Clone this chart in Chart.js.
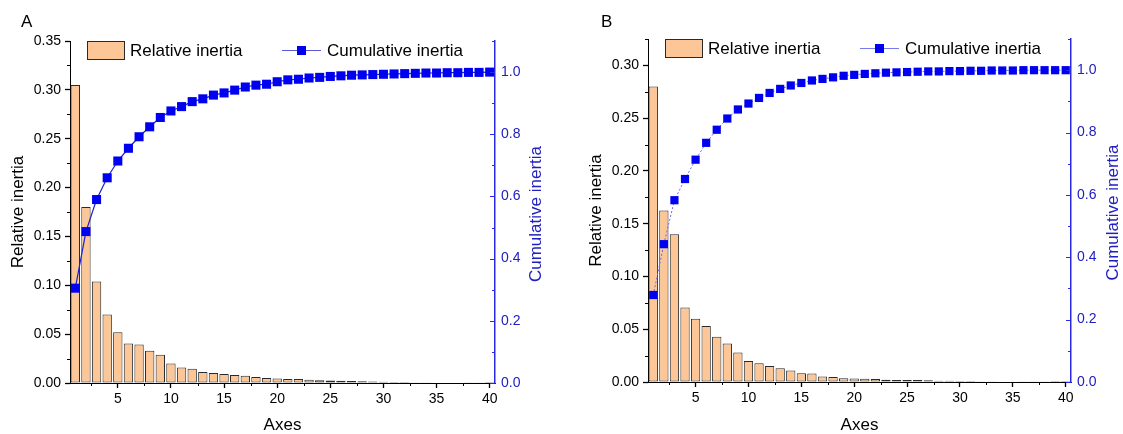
<!DOCTYPE html>
<html>
<head>
<meta charset="utf-8">
<script src="https://cdn.jsdelivr.net/npm/chart.js@4.4.1/dist/chart.umd.min.js"></script>
<style>
  html, body { margin: 0; padding: 0; background: #fff; }
  body { width: 1123px; height: 434px; position: relative; overflow: hidden; }
  canvas { position: absolute; top: 0; }
  #chartA { left: 0; }
  #chartB { left: 578px; }
</style>
</head>
<body>
<canvas id="chartA" width="560" height="434"></canvas>
<canvas id="chartB" width="545" height="434"></canvas>
<script>
const axes = [1, 2, 3, 4, 5, 6, 7, 8, 9, 10, 11, 12, 13, 14, 15, 16, 17, 18, 19, 20,
              21, 22, 23, 24, 25, 26, 27, 28, 29, 30, 31, 32, 33, 34, 35, 36, 37, 38, 39, 40];

// panel A
const relativeA = [0.305, 0.180, 0.104, 0.070, 0.052, 0.0405, 0.0395, 0.033, 0.029, 0.020,
                   0.0158, 0.0145, 0.0113, 0.0103, 0.0092, 0.0082, 0.0075, 0.0061, 0.0052, 0.0045,
                   0.0042, 0.0040, 0.0033, 0.0028, 0.0025, 0.0022, 0.0020, 0.0017, 0.0015, 0.0013,
                   0.0011, 0.0009, 0.0008, 0.0007, 0.0006, 0.0005, 0.0004, 0.0003, 0.0002, 0.0001];
const cumulativeA = [0.305, 0.487, 0.590, 0.660, 0.714, 0.755, 0.792, 0.824, 0.854, 0.875,
                     0.889, 0.905, 0.914, 0.926, 0.933, 0.942, 0.952, 0.958, 0.961, 0.969,
                     0.975, 0.977, 0.981, 0.983, 0.986, 0.988, 0.990, 0.991, 0.992, 0.993,
                     0.994, 0.995, 0.996, 0.997, 0.997, 0.998, 0.998, 0.999, 0.999, 1.000];

// panel B
const relativeB = [0.280, 0.1625, 0.140, 0.0707, 0.060, 0.053, 0.0428, 0.0365, 0.028, 0.020,
                   0.0178, 0.0152, 0.013, 0.011, 0.0082, 0.008, 0.0053, 0.0047, 0.0036, 0.0032,
                   0.0030, 0.0028, 0.0022, 0.0020, 0.0019, 0.0018, 0.0016, 0.0012, 0.0011, 0.0010,
                   0.0009, 0.0008, 0.0006, 0.0005, 0.0004, 0.0003, 0.0002, 0.0002, 0.0001, 0.0001];
const cumulativeB = [0.279, 0.442, 0.583, 0.651, 0.713, 0.767, 0.809, 0.845, 0.874, 0.893,
                     0.911, 0.927, 0.940, 0.951, 0.959, 0.967, 0.972, 0.977, 0.982, 0.985,
                     0.988, 0.990, 0.992, 0.993, 0.994, 0.995, 0.996, 0.996, 0.997, 0.997,
                     0.998, 0.998, 0.999, 0.999, 0.999, 1.000, 1.000, 1.000, 1.000, 1.000];

// ticks (major = labelled)
const xTicks = [2.5, 5, 7.5, 10, 12.5, 15, 17.5, 20, 22.5, 25, 27.5, 30, 32.5, 35, 37.5, 40];
const xLabels = [5, 10, 15, 20, 25, 30, 35, 40];
const leftTicksA = [0, 0.025, 0.05, 0.075, 0.1, 0.125, 0.15, 0.175, 0.2, 0.225, 0.25, 0.275, 0.3, 0.325, 0.35];
const leftTicksB = [0, 0.025, 0.05, 0.075, 0.1, 0.125, 0.15, 0.175, 0.2, 0.225, 0.25, 0.275, 0.3, 0.325];
const leftLabels = [0, 0.05, 0.1, 0.15, 0.2, 0.25, 0.3, 0.35];
const rightTicks = [0, 0.1, 0.2, 0.3, 0.4, 0.5, 0.6, 0.7, 0.8, 0.9, 1.0, 1.1];
const rightLabels = [0, 0.2, 0.4, 0.6, 0.8, 1.0];

const barFill = '#fcc696';
const barEdge = '#2a2a2a';
const blue = '#0000f0';
const axisBlue = '#2a2ae6';
const textBlue = '#2020c0';
const clear = 'rgba(0,0,0,0)';

Chart.defaults.font.family = '"Liberation Sans", Arial, sans-serif';

const near = (list, v) => list.some(t => Math.abs(t - v) < 1e-9);

// short minor ticks, and the inward ticks of the right axis
const tickMarks = {
    id: 'tickMarks',
    afterDraw(chart) {
        const ctx = chart.ctx;
        const { x, y, y2 } = chart.scales;
        ctx.save();
        ctx.lineWidth = 1;
        ctx.strokeStyle = '#000';
        ctx.beginPath();
        x.ticks.forEach(t => {
            if (near(xLabels, t.value)) return;
            const p = Math.round(x.getPixelForValue(t.value)) + 0.5;
            ctx.moveTo(p, x.top);
            ctx.lineTo(p, x.top + 3);
        });
        y.ticks.forEach(t => {
            if (near(leftLabels, t.value)) return;
            const p = Math.round(y.getPixelForValue(t.value)) + 0.5;
            ctx.moveTo(y.right, p);
            ctx.lineTo(y.right - 3, p);
        });
        ctx.stroke();
        ctx.strokeStyle = axisBlue;
        ctx.beginPath();
        y2.ticks.forEach(t => {
            const len = near(rightLabels, t.value) ? 5 : 3;
            const p = Math.round(y2.getPixelForValue(t.value)) + 0.5;
            ctx.moveTo(y2.left, p);
            ctx.lineTo(y2.left - len, p);
        });
        ctx.stroke();
        ctx.restore();
    }
};

// legend, panel letter and right-hand title
const overlay = {
    id: 'overlay',
    afterDraw(chart, args, o) {
        const ctx = chart.ctx;
        const a = chart.chartArea;
        const ds = chart.data.datasets;
        ctx.save();
        ctx.font = '17px "Liberation Sans", Arial, sans-serif';
        ctx.textBaseline = 'middle';
        ctx.textAlign = 'left';
        ctx.fillStyle = '#000';
        ctx.fillText(o.letter, o.letterX, o.letterY);

        const ly = a.top + 9;
        ctx.fillStyle = barFill;
        ctx.fillRect(a.left + 17, a.top, 37, 18);
        ctx.strokeStyle = barEdge;
        ctx.lineWidth = 1;
        ctx.strokeRect(a.left + 17.5, a.top + 0.5, 37, 18);
        ctx.fillStyle = '#000';
        ctx.fillText(ds[1].label, a.left + 60, ly + 1);

        ctx.strokeStyle = o.legendLine;
        ctx.lineWidth = 1;
        ctx.beginPath();
        ctx.moveTo(a.left + 212, ly + 0.5);
        ctx.lineTo(a.left + 251, ly + 0.5);
        ctx.stroke();
        ctx.fillStyle = blue;
        ctx.fillRect(a.left + 227, ly - 4, 9, 9);
        ctx.fillStyle = '#000';
        ctx.fillText(ds[0].label, a.left + 257, ly + 1);

        ctx.translate(a.right + o.titleOffset, (a.top + a.bottom) / 2 + 2);
        ctx.rotate(-Math.PI / 2);
        ctx.textAlign = 'center';
        ctx.fillStyle = textBlue;
        ctx.fillText('Cumulative inertia', 0, 0);
        ctx.restore();
    }
};

function makeChart(id, cfg) {
    return new Chart(document.getElementById(id), {
        type: 'bar',
        data: {
            datasets: [
                {
                    type: 'line',
                    label: 'Cumulative inertia',
                    yAxisID: 'y2',
                    order: 0,
                    data: axes.map((a, i) => ({ x: a, y: cfg.cumulative[i] })),
                    borderColor: cfg.lineColor,
                    borderWidth: cfg.lineWidth,
                    borderDash: cfg.dash,
                    pointStyle: 'rect',
                    pointRadius: cfg.markerRadius,
                    pointBackgroundColor: blue,
                    pointBorderWidth: 0,
                    tension: 0
                },
                {
                    type: 'bar',
                    label: 'Relative inertia',
                    yAxisID: 'y',
                    order: 1,
                    data: axes.map((a, i) => ({ x: a, y: cfg.relative[i] })),
                    backgroundColor: barFill,
                    borderColor: barEdge,
                    borderWidth: 1,
                    borderSkipped: false,
                    barPercentage: 0.88,
                    categoryPercentage: 1
                }
            ]
        },
        options: {
            responsive: false,
            animation: false,
            layout: { padding: { top: cfg.top, left: 0, right: 0, bottom: 0 } },
            plugins: {
                legend: { display: false },
                tooltip: { enabled: false },
                overlay: cfg.overlay
            },
            scales: {
                x: {
                    type: 'linear',
                    min: 0.5,
                    max: 40.5,
                    offset: false,
                    afterBuildTicks: s => { s.ticks = xTicks.map(v => ({ value: v })); },
                    afterFit: s => { s.height = cfg.xHeight; },
                    ticks: {
                        autoSkip: false, maxRotation: 0, padding: 3, color: '#000',
                        font: { size: 14 },
                        callback: v => near(xLabels, v) ? String(v) : ''
                    },
                    grid: {
                        drawOnChartArea: false, offset: false, tickLength: 5, tickWidth: 1.3,
                        tickColor: c => c.tick && near(xLabels, c.tick.value) ? '#000' : clear
                    },
                    border: { color: '#000', width: 1 },
                    title: { display: true, text: 'Axes', color: '#000',
                             font: { size: 17, lineHeight: 1 }, padding: { top: 0, bottom: 0 } }
                },
                y: {
                    position: 'left',
                    min: 0,
                    max: cfg.leftMax,
                    afterBuildTicks: s => { s.ticks = cfg.leftTicks.map(v => ({ value: v })); },
                    afterFit: s => { s.width = 70; },
                    ticks: {
                        autoSkip: false, padding: 4, color: '#000', font: { size: 14 },
                        callback: v => near(leftLabels, v) ? v.toFixed(2) : ''
                    },
                    grid: {
                        drawOnChartArea: false, offset: false, tickLength: 5, tickWidth: 1.3,
                        tickColor: c => c.tick && near(leftLabels, c.tick.value) ? '#000' : clear
                    },
                    border: { color: '#000', width: 1 },
                    title: { display: true, text: 'Relative inertia', color: '#000',
                             font: { size: 17, lineHeight: 1 }, padding: { top: 10 } }
                },
                y2: {
                    position: 'right',
                    min: 0,
                    max: 1.1,
                    afterBuildTicks: s => { s.ticks = rightTicks.map(v => ({ value: v })); },
                    afterFit: s => { s.width = cfg.rightWidth; },
                    ticks: {
                        autoSkip: false, padding: 6, color: textBlue, font: { size: 14 },
                        callback: v => near(rightLabels, v) ? v.toFixed(1) : ''
                    },
                    grid: { drawOnChartArea: false, drawTicks: false, offset: false },
                    border: { color: axisBlue, width: 1.5 },
                    title: { display: false }
                }
            }
        },
        plugins: [tickMarks, overlay]
    });
}

makeChart('chartA', {
    relative: relativeA, cumulative: cumulativeA,
    leftMax: 0.35, leftTicks: leftTicksA,
    top: 41, xHeight: 51, rightWidth: 65,
    lineColor: '#1e1ed0', lineWidth: 1.2, dash: [], markerRadius: 6.4,
    overlay: { letter: 'A', letterX: 21, letterY: 22, titleOffset: 41, legendLine: '#5a5ad8' }
});

makeChart('chartB', {
    relative: relativeB, cumulative: cumulativeB,
    leftMax: 0.325, leftTicks: leftTicksB,
    top: 39, xHeight: 52, rightWidth: 52,
    lineColor: '#6a6af0', lineWidth: 1, dash: [2, 2], markerRadius: 5.8,
    overlay: { letter: 'B', letterX: 23, letterY: 22, titleOffset: 42, legendLine: '#7a7af0' }
});
</script>
</body>
</html>
